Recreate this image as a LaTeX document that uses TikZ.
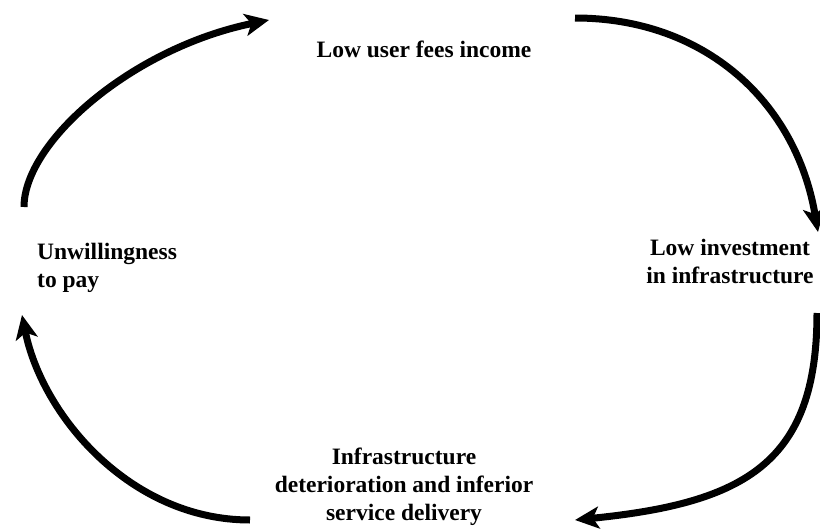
\documentclass[tikz,border=0pt]{standalone}
\usepackage{fontspec}
\setmainfont{Liberation Serif}
\usetikzlibrary{arrows.meta}
\begin{document}
\begin{tikzpicture}[x=1pt,y=-1pt,
  label/.style={font=\fontsize{23.5}{28}\selectfont\bfseries, inner sep=0pt},
  cycle/.style={line width=7pt, -{Stealth[length=24pt,width=22pt,inset=6pt]}}]
  \useasboundingbox (0,0) rectangle (820,530);

  % stages of the cycle
  \node[label, anchor=base] (fees) at (424,57) {Low user fees income};
  \node[label, align=center, anchor=north] (invest) at (730,239) {Low investment\\in infrastructure};
  \node[label, align=center, anchor=north] (decay) at (404,448) {Infrastructure\\deterioration and inferior\\service delivery};
  \node[label, align=left, anchor=north west] (unwill) at (37,243) {Unwillingness\\to pay};

  % end points of the curved arrows
  \coordinate (a1s) at (24,207);  \coordinate (a1e) at (269,20);
  \coordinate (a2s) at (575,18);  \coordinate (a2e) at (818,232);
  \coordinate (a3s) at (817,313); \coordinate (a3e) at (575,520);
  \coordinate (a4s) at (250,520); \coordinate (a4e) at (22,315);

  \draw[cycle] (a1s) .. controls (24,142) and (132,48) .. (a1e);
  \draw[cycle] (a2s) .. controls (705,18) and (796,102) .. (a2e);
  \draw[cycle] (a3s) .. controls (817,463) and (745,503) .. (a3e);
  \draw[cycle] (a4s) .. controls (130,520) and (42,415) .. (a4e);
\end{tikzpicture}
\end{document}
